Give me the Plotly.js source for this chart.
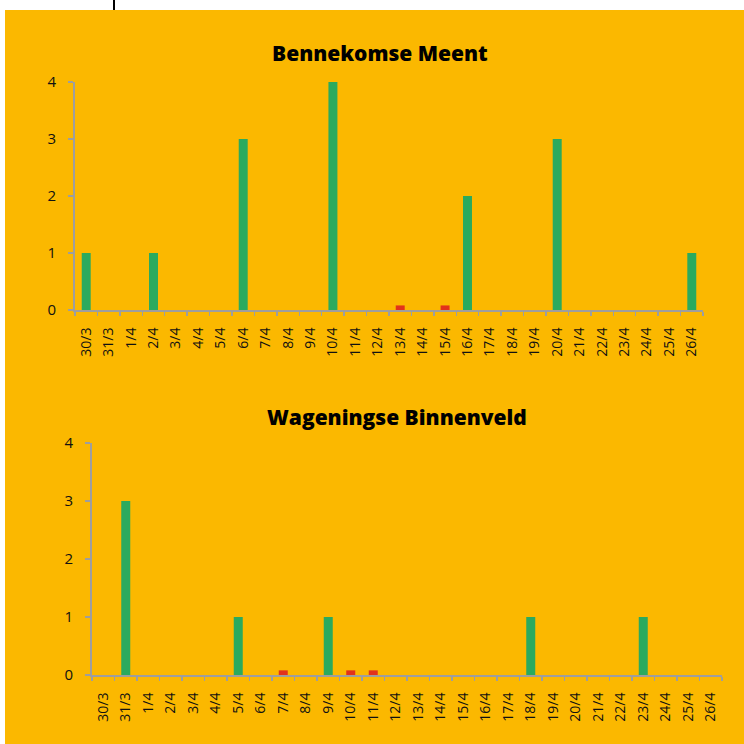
<!DOCTYPE html>
<html>
<head>
<meta charset="utf-8">
<script src="https://cdn.plot.ly/plotly-3.0.1.min.js"></script>
<style>html,body{margin:0;padding:0;background:#fff;}#chart{width:744px;height:744px;}</style>
</head>
<body>
<div id="chart"></div>
<script>
const dates = ['30/3','31/3','1/4','2/4','3/4','4/4','5/4','6/4','7/4','8/4','9/4','10/4','11/4','12/4','13/4','14/4','15/4','16/4','17/4','18/4','19/4','20/4','21/4','22/4','23/4','24/4','25/4','26/4'];
const titleTop = 'Bennekomse Meent';
const titleBottom = 'Wageningse Binnenveld';
// Bennekomse Meent
const meentGreen = [1,0,0,1,0,0,0,3,0,0,0,4,0,0,0,0,0,2,0,0,0,3,0,0,0,0,0,1];
const meentRed   = [0,0,0,0,0,0,0,0,0,0,0,0,0,0,0.08,0,0.08,0,0,0,0,0,0,0,0,0,0,0];
// Wageningse Binnenveld
const binnenGreen = [0,3,0,0,0,0,1,0,0,0,1,0,0,0,0,0,0,0,0,1,0,0,0,0,1,0,0,0];
const binnenRed   = [0,0,0,0,0,0,0,0,0.08,0,0,0.08,0.08,0,0,0,0,0,0,0,0,0,0,0,0,0,0,0];
const yTicks = [0,1,2,3,4];

const GREEN = '#2BAA5E', RED = '#E2321B', ORANGE = '#FBB800', GRAY = '#9E9E9E';
const W = 744, H = 744;
const px = v => v / W;
const py = v => 1 - v / H;

function bar(y, color, xa, ya) {
  return {type:'bar', x: dates, y: y, xaxis: xa, yaxis: ya, marker:{color: color}, hoverinfo:'skip', showlegend:false};
}
const data = [
  bar(meentGreen, GREEN, 'x', 'y'),
  bar(meentRed, RED, 'x', 'y'),
  bar(binnenGreen, GREEN, 'x2', 'y2'),
  bar(binnenRed, RED, 'x2', 'y2')
];

const tickFont = {family:'Open Sans, Lato, sans-serif', size:14, color:'#111'};
const yFont = {family:'Open Sans, Lato, sans-serif', size:15, color:'#111'};
function xax(domain, anchor) {
  return {domain: domain, anchor: anchor, type:'category', tickson:'boundaries', ticks:'outside', ticklen:4, tickwidth:1.5, tickcolor:GRAY,
    showline:true, linecolor:GRAY, linewidth:2, showgrid:false, zeroline:false, tickangle:-90, tickfont:tickFont, ticklabelstandoff:10, fixedrange:true};
}
function yax(domain, anchor) {
  return {domain: domain, anchor: anchor, range:[0,4], tickvals:yTicks, ticktext:yTicks.map(String), ticks:'outside', ticklen:5, tickwidth:1.5, tickcolor:GRAY,
    showline:true, linecolor:GRAY, linewidth:2, showgrid:false, zeroline:false, tickfont:yFont, ticklabelstandoff:9, fixedrange:true};
}
const titleFont = {family:'Open Sans, sans-serif', size:21, color:'#000', weight:800};
const layout = {
  width: W, height: H,
  margin:{l:0,r:0,t:0,b:0},
  paper_bgcolor:'#ffffff', plot_bgcolor:'rgba(0,0,0,0)',
  barmode:'overlay', bargap:0.6,
  xaxis: xax([px(75), px(703)], 'y'),
  yaxis: yax([py(310), py(82)], 'x'),
  xaxis2: xax([px(92), px(722)], 'y2'),
  yaxis2: yax([py(675), py(443)], 'x2'),
  shapes: [
    {type:'rect', xref:'paper', yref:'paper', x0:px(5), x1:1, y0:0, y1:py(10), fillcolor:ORANGE, line:{width:0}, layer:'below'},
    {type:'line', xref:'paper', yref:'paper', x0:px(114), x1:px(114), y0:py(10), y1:1, line:{color:'#000', width:2}, layer:'below'}
  ],
  annotations: [
    {text: titleTop, xref:'paper', yref:'paper', x:px(380), y:py(53), xanchor:'center', yanchor:'middle', showarrow:false, font:titleFont},
    {text: titleBottom, xref:'paper', yref:'paper', x:px(396.5), y:py(417), xanchor:'center', yanchor:'middle', showarrow:false, font:titleFont}
  ]
};
Plotly.newPlot('chart', data, layout, {staticPlot:true, displayModeBar:false});
</script>
</body>
</html>
